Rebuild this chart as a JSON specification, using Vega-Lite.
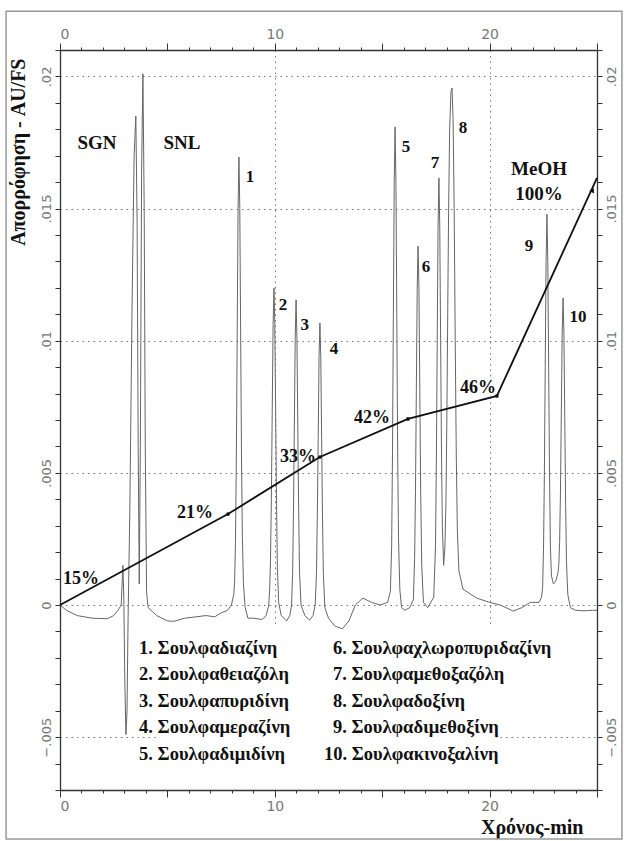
{
  "$schema": "https://vega.github.io/schema/vega-lite/v6.json",
  "width": 537,
  "height": 740,
  "autosize": {"type": "none"},
  "padding": {"left": 60, "top": 50, "right": 31, "bottom": 51},
  "background": "white",
  "config": {
    "view": {"stroke": null},
    "axis": {
      "domainColor": "#333",
      "domainWidth": 1.3,
      "tickColor": "#333",
      "tickWidth": 1,
      "labelColor": "#777",
      "labelFont": "DejaVu Sans",
      "labelFontSize": 13,
      "gridColor": "#777",
      "gridDash": [1.5, 4],
      "gridWidth": 1
    }
  },
  "datasets": {
    "trace": [
      {"t": 0.0, "a": 0.0}, {"t": 0.3, "a": -0.0002}, {"t": 0.8, "a": -0.0004}, {"t": 1.5, "a": -0.0005},
      {"t": 2.2, "a": -0.00052}, {"t": 2.5, "a": -0.0004}, {"t": 2.7, "a": -0.0002}, {"t": 2.85, "a": 0.0},
      {"t": 2.9, "a": 0.001}, {"t": 2.93, "a": 0.0015}, {"t": 2.97, "a": 0.0003}, {"t": 3.02, "a": -0.003},
      {"t": 3.07, "a": -0.0049}, {"t": 3.12, "a": -0.004}, {"t": 3.17, "a": -0.0005}, {"t": 3.25, "a": 0.0035},
      {"t": 3.35, "a": 0.011}, {"t": 3.45, "a": 0.017}, {"t": 3.53, "a": 0.0185}, {"t": 3.59, "a": 0.0145},
      {"t": 3.64, "a": 0.006}, {"t": 3.69, "a": 0.0008}, {"t": 3.74, "a": 0.006}, {"t": 3.8, "a": 0.0165},
      {"t": 3.86, "a": 0.0201}, {"t": 3.92, "a": 0.015}, {"t": 3.97, "a": 0.006}, {"t": 4.03, "a": 0.0005},
      {"t": 4.1, "a": -0.0001}, {"t": 4.5, "a": -0.0004}, {"t": 5.0, "a": -0.0006}, {"t": 5.3, "a": -0.00062},
      {"t": 5.8, "a": -0.0005}, {"t": 6.3, "a": -0.00045}, {"t": 6.8, "a": -0.0004}, {"t": 7.2, "a": -0.00045},
      {"t": 7.5, "a": -0.0003}, {"t": 7.8, "a": -0.0002}, {"t": 7.98, "a": 0.0}, {"t": 8.09, "a": 0.0004},
      {"t": 8.13, "a": 0.0009}, {"t": 8.17, "a": 0.0024}, {"t": 8.21, "a": 0.0056}, {"t": 8.25, "a": 0.0103},
      {"t": 8.29, "a": 0.015}, {"t": 8.33, "a": 0.01695}, {"t": 8.37, "a": 0.015}, {"t": 8.41, "a": 0.0103},
      {"t": 8.45, "a": 0.0056}, {"t": 8.49, "a": 0.0026}, {"t": 8.54, "a": 0.0008}, {"t": 8.62, "a": -0.0001},
      {"t": 8.75, "a": -0.0005}, {"t": 9.0, "a": -0.0005}, {"t": 9.4, "a": -0.00055}, {"t": 9.6, "a": -0.0004},
      {"t": 9.72, "a": 0.0}, {"t": 9.76, "a": 0.0006}, {"t": 9.8, "a": 0.0017}, {"t": 9.84, "a": 0.004},
      {"t": 9.88, "a": 0.0073}, {"t": 9.92, "a": 0.0106}, {"t": 9.96, "a": 0.012}, {"t": 10.0, "a": 0.0106},
      {"t": 10.04, "a": 0.0073}, {"t": 10.08, "a": 0.0039}, {"t": 10.12, "a": 0.0014}, {"t": 10.18, "a": 0.0001},
      {"t": 10.3, "a": -0.0004}, {"t": 10.55, "a": -0.0006}, {"t": 10.7, "a": -0.0004}, {"t": 10.78, "a": 0.0},
      {"t": 10.83, "a": 0.0012}, {"t": 10.87, "a": 0.0036}, {"t": 10.91, "a": 0.0068}, {"t": 10.95, "a": 0.0101},
      {"t": 10.99, "a": 0.01154}, {"t": 11.03, "a": 0.0101}, {"t": 11.07, "a": 0.0068}, {"t": 11.11, "a": 0.0036},
      {"t": 11.15, "a": 0.0013}, {"t": 11.22, "a": 0.0}, {"t": 11.4, "a": -0.0004}, {"t": 11.62, "a": -0.00057},
      {"t": 11.78, "a": -0.0004}, {"t": 11.88, "a": 0.0}, {"t": 11.94, "a": 0.0012}, {"t": 11.98, "a": 0.0034},
      {"t": 12.02, "a": 0.0063}, {"t": 12.06, "a": 0.0094}, {"t": 12.1, "a": 0.01067}, {"t": 12.14, "a": 0.0094},
      {"t": 12.18, "a": 0.0063}, {"t": 12.22, "a": 0.0033}, {"t": 12.26, "a": 0.0012}, {"t": 12.33, "a": -0.0001},
      {"t": 12.5, "a": -0.0005}, {"t": 12.8, "a": -0.0008}, {"t": 13.15, "a": -0.0009}, {"t": 13.45, "a": -0.0006},
      {"t": 13.75, "a": 0.0}, {"t": 14.1, "a": 0.00026}, {"t": 14.5, "a": 0.0001}, {"t": 14.9, "a": 0.0},
      {"t": 15.25, "a": 0.0001}, {"t": 15.38, "a": 0.0005}, {"t": 15.44, "a": 0.0022}, {"t": 15.48, "a": 0.0058},
      {"t": 15.52, "a": 0.011}, {"t": 15.56, "a": 0.016}, {"t": 15.6, "a": 0.01809}, {"t": 15.64, "a": 0.016},
      {"t": 15.68, "a": 0.011}, {"t": 15.72, "a": 0.0058}, {"t": 15.76, "a": 0.0025}, {"t": 15.82, "a": 0.0006},
      {"t": 15.9, "a": -0.0001}, {"t": 16.05, "a": -0.0002}, {"t": 16.28, "a": -0.0001}, {"t": 16.45, "a": 0.0002},
      {"t": 16.51, "a": 0.0018}, {"t": 16.55, "a": 0.0043}, {"t": 16.59, "a": 0.0082}, {"t": 16.63, "a": 0.012},
      {"t": 16.67, "a": 0.01358}, {"t": 16.71, "a": 0.012}, {"t": 16.75, "a": 0.0082}, {"t": 16.79, "a": 0.0044},
      {"t": 16.84, "a": 0.0015}, {"t": 16.92, "a": 0.0001}, {"t": 17.12, "a": -0.0001}, {"t": 17.4, "a": 0.0003},
      {"t": 17.48, "a": 0.0022}, {"t": 17.52, "a": 0.0053}, {"t": 17.56, "a": 0.0098}, {"t": 17.6, "a": 0.0143},
      {"t": 17.64, "a": 0.01616}, {"t": 17.68, "a": 0.0143}, {"t": 17.72, "a": 0.01}, {"t": 17.76, "a": 0.0058},
      {"t": 17.8, "a": 0.003}, {"t": 17.86, "a": 0.0015}, {"t": 17.92, "a": 0.0022}, {"t": 17.97, "a": 0.004},
      {"t": 18.01, "a": 0.007}, {"t": 18.05, "a": 0.011}, {"t": 18.09, "a": 0.0148}, {"t": 18.14, "a": 0.018},
      {"t": 18.2, "a": 0.0194}, {"t": 18.25, "a": 0.01956}, {"t": 18.3, "a": 0.0184}, {"t": 18.35, "a": 0.015},
      {"t": 18.4, "a": 0.01}, {"t": 18.45, "a": 0.0056}, {"t": 18.5, "a": 0.0028}, {"t": 18.57, "a": 0.0013},
      {"t": 18.76, "a": 0.0006}, {"t": 19.4, "a": 0.00026}, {"t": 20.0, "a": 0.0001}, {"t": 20.5, "a": 0.0},
      {"t": 21.1, "a": -0.00023}, {"t": 21.5, "a": -0.0001}, {"t": 21.9, "a": 0.0001}, {"t": 22.3, "a": 0.0001},
      {"t": 22.42, "a": 0.0003}, {"t": 22.47, "a": 0.0007}, {"t": 22.51, "a": 0.0021}, {"t": 22.55, "a": 0.0049},
      {"t": 22.59, "a": 0.009}, {"t": 22.63, "a": 0.013}, {"t": 22.67, "a": 0.01479}, {"t": 22.71, "a": 0.013},
      {"t": 22.75, "a": 0.009}, {"t": 22.79, "a": 0.005}, {"t": 22.83, "a": 0.0022}, {"t": 22.88, "a": 0.0011},
      {"t": 22.97, "a": 0.0008}, {"t": 23.08, "a": 0.0009}, {"t": 23.18, "a": 0.0012}, {"t": 23.22, "a": 0.0015},
      {"t": 23.26, "a": 0.0024}, {"t": 23.3, "a": 0.0043}, {"t": 23.34, "a": 0.0073}, {"t": 23.38, "a": 0.0103},
      {"t": 23.42, "a": 0.01162}, {"t": 23.46, "a": 0.0103}, {"t": 23.5, "a": 0.0071}, {"t": 23.54, "a": 0.0038},
      {"t": 23.58, "a": 0.0016}, {"t": 23.64, "a": 0.0004}, {"t": 23.76, "a": -0.0001}, {"t": 24.0, "a": -0.0002},
      {"t": 24.4, "a": -0.00022}, {"t": 24.8, "a": -0.0002}, {"t": 25.0, "a": -0.0002}
    ],
    "gradient": [
      {"t": 0.0, "a": 0.0, "mark": "none"},
      {"t": 7.82, "a": 0.00344, "mark": "dot"},
      {"t": 12.1, "a": 0.0056, "mark": "dot"},
      {"t": 16.2, "a": 0.00704, "mark": "dot"},
      {"t": 20.34, "a": 0.00791, "mark": "dot"},
      {"t": 25.0, "a": 0.01616, "mark": "none"}
    ],
    "arrow": [
      {"t": 24.8, "a": 0.0157}
    ],
    "percent": [
      {"t": 0.98, "a": 0.00098, "label": "15%"},
      {"t": 6.28, "a": 0.00348, "label": "21%"},
      {"t": 11.08, "a": 0.0056, "label": "33%"},
      {"t": 14.53, "a": 0.00708, "label": "42%"},
      {"t": 19.46, "a": 0.00821, "label": "46%"}
    ],
    "peaks": [
      {"t": 8.85, "a": 0.0162, "label": "1"},
      {"t": 10.38, "a": 0.01135, "label": "2"},
      {"t": 11.4, "a": 0.0106, "label": "3"},
      {"t": 12.76, "a": 0.00969, "label": "4"},
      {"t": 16.11, "a": 0.01733, "label": "5"},
      {"t": 17.04, "a": 0.01279, "label": "6"},
      {"t": 17.46, "a": 0.01672, "label": "7"},
      {"t": 18.76, "a": 0.01805, "label": "8"},
      {"t": 21.83, "a": 0.01358, "label": "9"},
      {"t": 24.12, "a": 0.0109, "label": "10"}
    ],
    "names": [
      {"t": 1.72, "a": 0.01749, "label": "SGN"},
      {"t": 5.68, "a": 0.01749, "label": "SNL"},
      {"t": 22.3, "a": 0.0165, "label": "MeOH"},
      {"t": 22.3, "a": 0.01555, "label": "100%"}
    ],
    "legend": [
      {"t": 3.68, "a": -0.00163, "label": "1. Σουλφαδιαζίνη"},
      {"t": 3.68, "a": -0.00261, "label": "2. Σουλφαθειαζόλη"},
      {"t": 3.68, "a": -0.00363, "label": "3. Σουλφαπυριδίνη"},
      {"t": 3.68, "a": -0.00462, "label": "4. Σουλφαμεραζίνη"},
      {"t": 3.68, "a": -0.00564, "label": "5. Σουλφαδιμιδίνη"},
      {"t": 12.71, "a": -0.00163, "label": "6. Σουλφαχλωροπυριδαζίνη"},
      {"t": 12.71, "a": -0.00261, "label": "7. Σουλφαμεθοξαζόλη"},
      {"t": 12.71, "a": -0.00363, "label": "8. Σουλφαδοξίνη"},
      {"t": 12.71, "a": -0.00462, "label": "9. Σουλφαδιμεθοξίνη"},
      {"t": 12.29, "a": -0.00564, "label": "10. Σουλφακινοξαλίνη"}
    ]
  },
  "layer": [
    {
      "data": {"values": [{}]},
      "mark": {"type": "rect", "fill": null, "stroke": "#999", "strokeWidth": 1.5},
      "encoding": {
        "x": {"datum": -2.51, "type": "quantitative", "scale": {"domain": [0, 25], "nice": false, "zero": false}, "axis": null},
        "x2": {"datum": 26.16},
        "y": {"datum": 0.02247, "type": "quantitative", "scale": {"domain": [-0.007, 0.021], "nice": false, "zero": false}, "axis": null},
        "y2": {"datum": -0.00885}
      }
    },
    {
      "data": {"values": [{}]},
      "mark": {"type": "rect", "fill": "white", "stroke": null},
      "encoding": {
        "x": {"datum": 4.47, "type": "quantitative", "axis": null},
        "x2": {"datum": 20.3},
        "y": {"datum": -0.00087, "type": "quantitative", "axis": null},
        "y2": {"datum": -0.00695}
      }
    },
    {
      "data": {"name": "trace"},
      "mark": {"type": "line", "color": "#666", "strokeWidth": 1, "interpolate": "linear"},
      "encoding": {
        "x": {
          "field": "t", "type": "quantitative",
          "axis": {
            "orient": "bottom",
            "values": [0,1,2,3,4,5,6,7,8,9,10,11,12,13,14,15,16,17,18,19,20,21,22,23,24,25],
            "labelExpr": "datum.value % 10 == 0 ? datum.label : ''",
            "labelFontSize": 14,
            "tickSize": {"condition": {"test": "datum.value % 5 == 0", "value": 7}, "value": 3},
            "grid": true,
            "gridOpacity": {"condition": {"test": "datum.value == 10 || datum.value == 20", "value": 1}, "value": 0},
            "title": "Χρόνος-min",
            "titleFont": "Liberation Serif",
            "titleFontWeight": "bold",
            "titleFontSize": 20,
            "titleColor": "#111",
            "titleAnchor": "end",
            "titleAlign": "right",
            "titleBaseline": "alphabetic",
            "titleX": 523,
            "titleY": 43
          }
        },
        "y": {
          "field": "a", "type": "quantitative",
          "axis": {
            "orient": "left",
            "values": [-0.007,-0.006,-0.005,-0.004,-0.003,-0.002,-0.001,0,0.001,0.002,0.003,0.004,0.005,0.006,0.007,0.008,0.009,0.01,0.011,0.012,0.013,0.014,0.015,0.016,0.017,0.018,0.019,0.02,0.021],
            "labelExpr": "abs(round(datum.value*1000)) % 5 == 0 ? replace(format(datum.value, '.3~f'), '0.', '.') : ''",
            "labelAngle": -90,
            "labelAlign": "center",
            "labelBaseline": "bottom",
            "labelPadding": 2,
            "tickSize": 5,
            "grid": true,
            "gridOpacity": {"condition": {"test": "abs(round(datum.value*1000)) % 5 == 0", "value": 1}, "value": 0},
            "title": "Απορρόφηση - AU/FS",
            "titleFont": "Liberation Serif",
            "titleFontWeight": "bold",
            "titleFontSize": 20,
            "titleColor": "#111",
            "titleAngle": -90,
            "titleAlign": "right",
            "titleBaseline": "middle",
            "titleX": -42,
            "titleY": 8
          }
        }
      }
    },
    {
      "data": {"name": "gradient"},
      "mark": {"type": "line", "color": "#111", "strokeWidth": 1.8},
      "encoding": {
        "x": {
          "field": "t", "type": "quantitative",
          "axis": {
            "orient": "top",
            "values": [0,1,2,3,4,5,6,7,8,9,10,11,12,13,14,15,16,17,18,19,20,21,22,23,24,25],
            "labelExpr": "datum.value % 10 == 0 ? datum.label : ''",
            "labelFontSize": 14,
            "tickSize": {"condition": {"test": "datum.value % 5 == 0", "value": 7}, "value": 3},
            "grid": false,
            "title": null
          }
        },
        "y": {
          "field": "a", "type": "quantitative",
          "axis": {
            "orient": "right",
            "values": [-0.007,-0.006,-0.005,-0.004,-0.003,-0.002,-0.001,0,0.001,0.002,0.003,0.004,0.005,0.006,0.007,0.008,0.009,0.01,0.011,0.012,0.013,0.014,0.015,0.016,0.017,0.018,0.019,0.02,0.021],
            "labelExpr": "abs(round(datum.value*1000)) % 5 == 0 ? replace(format(datum.value, '.3~f'), '0.', '.') : ''",
            "labelAngle": -90,
            "labelAlign": "center",
            "labelBaseline": "top",
            "labelPadding": 3,
            "tickSize": 5,
            "grid": false,
            "title": null
          }
        }
      }
    },
    {
      "data": {"name": "gradient"},
      "transform": [{"filter": "datum.mark == 'dot'"}],
      "mark": {"type": "point", "filled": true, "color": "#111", "size": 14, "opacity": 1},
      "encoding": {
        "x": {"field": "t", "type": "quantitative", "axis": null},
        "y": {"field": "a", "type": "quantitative", "axis": null}
      }
    },
    {
      "data": {"name": "arrow"},
      "mark": {"type": "point", "shape": "triangle-up", "filled": true, "color": "#111", "size": 30, "angle": 25, "opacity": 1},
      "encoding": {
        "x": {"field": "t", "type": "quantitative", "axis": null},
        "y": {"field": "a", "type": "quantitative", "axis": null}
      }
    },
    {
      "data": {"name": "percent"},
      "mark": {"type": "text", "font": "Liberation Serif", "fontWeight": "bold", "fontSize": 18, "color": "#111", "align": "center", "baseline": "middle"},
      "encoding": {
        "x": {"field": "t", "type": "quantitative", "axis": null},
        "y": {"field": "a", "type": "quantitative", "axis": null},
        "text": {"field": "label"}
      }
    },
    {
      "data": {"name": "peaks"},
      "mark": {"type": "text", "font": "Liberation Serif", "fontWeight": "bold", "fontSize": 17, "color": "#111", "align": "center", "baseline": "middle"},
      "encoding": {
        "x": {"field": "t", "type": "quantitative", "axis": null},
        "y": {"field": "a", "type": "quantitative", "axis": null},
        "text": {"field": "label"}
      }
    },
    {
      "data": {"name": "names"},
      "mark": {"type": "text", "font": "Liberation Serif", "fontWeight": "bold", "fontSize": 19, "color": "#111", "align": "center", "baseline": "middle"},
      "encoding": {
        "x": {"field": "t", "type": "quantitative", "axis": null},
        "y": {"field": "a", "type": "quantitative", "axis": null},
        "text": {"field": "label"}
      }
    },
    {
      "data": {"name": "legend"},
      "mark": {"type": "text", "font": "Liberation Serif", "fontWeight": "bold", "fontSize": 18.5, "color": "#111", "align": "left", "baseline": "middle"},
      "encoding": {
        "x": {"field": "t", "type": "quantitative", "axis": null},
        "y": {"field": "a", "type": "quantitative", "axis": null},
        "text": {"field": "label"}
      }
    }
  ],
  "resolve": {"axis": {"x": "independent", "y": "independent"}}
}
